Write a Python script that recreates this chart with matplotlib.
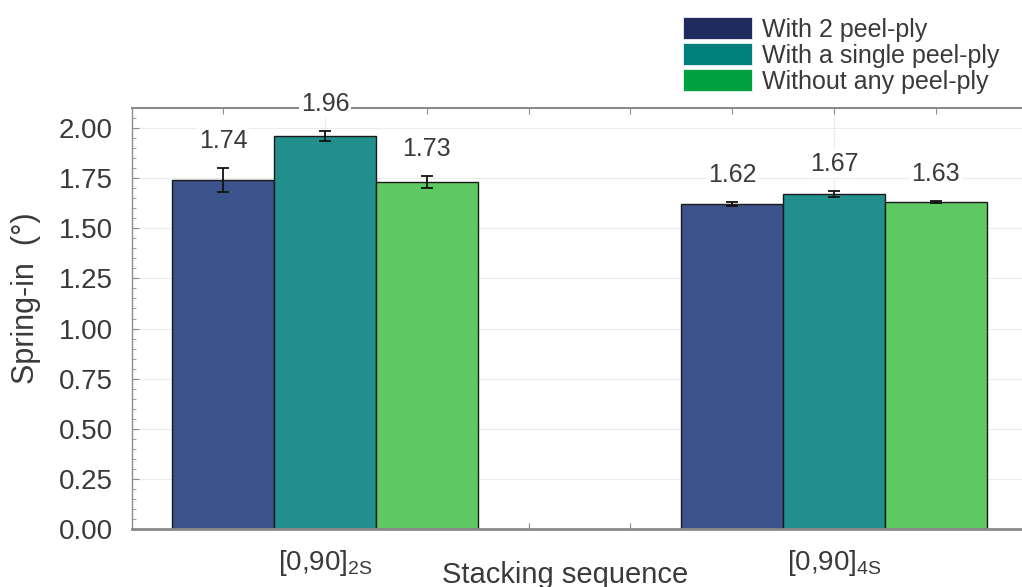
import numpy as np
import matplotlib
matplotlib.use("Agg")
import matplotlib.pyplot as plt
from matplotlib.ticker import MultipleLocator
from matplotlib.patches import Patch

plt.rcParams['font.family'] = ['Liberation Sans', 'DejaVu Sans']
plt.rcParams['mathtext.default'] = 'regular'

# data
groups = ['[0,90]$_{2S}$', '[0,90]$_{4S}$']
series = ['With 2 peel-ply', 'With a single peel-ply', 'Without any peel-ply']
spring_in = [[1.74, 1.62], [1.96, 1.67], [1.73, 1.63]]
errors = [[0.06, 0.01], [0.025, 0.015], [0.03, 0.005]]
labels = [['1.74', '1.62'], ['1.96', '1.67'], ['1.73', '1.63']]

bar_colors = ['#3b528b', '#21908d', '#5ec962']
legend_colors = ['#1f2a5f', '#00807c', '#00a040']
txt = '#3a3a3a'
spine = '#8a8a8a'

fig = plt.figure(figsize=(10.22, 5.87), dpi=100)
ax = fig.add_axes([132/1022, 1 - 529/587, (1027 - 132)/1022, (529 - 108)/587])

x = np.arange(len(groups))
w = 0.2
for i in range(len(series)):
    xi = x + (i - 1) * w
    ax.bar(xi, spring_in[i], w, color=bar_colors[i], edgecolor='#1a1a1a',
           linewidth=1.0, zorder=2)
    ax.errorbar(xi, spring_in[i], yerr=errors[i], fmt='none', ecolor='#111111',
                elinewidth=1.3, capsize=4, capthick=1.3, zorder=3)
    # value labels sit a fixed distance above the error bar
    for xx, v, e, s in zip(xi, spring_in[i], errors[i], labels[i]):
        ax.text(xx, v + e + 0.135, s, ha='center', va='center', fontsize=18,
                color=txt, zorder=4, clip_on=False,
                bbox=dict(facecolor='white', edgecolor='none', pad=1.5))

ax.set_xlim(-0.379, 1.379)
ax.set_ylim(0, 2.10)
ax.set_xticks(x)
ax.set_xticklabels(groups, fontsize=20, color=txt)
ax.xaxis.set_minor_locator(MultipleLocator(0.2))
ax.yaxis.set_major_locator(MultipleLocator(0.25))
ax.yaxis.set_minor_locator(MultipleLocator(0.05))
ax.yaxis.set_major_formatter(matplotlib.ticker.FormatStrFormatter('%.2f'))
ax.tick_params(axis='y', which='major', direction='in', length=5, width=0.8,
               color=spine, labelsize=20, labelcolor=txt, pad=14)
ax.tick_params(axis='y', which='minor', direction='in', length=3, width=0.6, color=spine)
ax.tick_params(axis='x', which='both', direction='in', length=4, width=0.8,
               color=spine, top=True, pad=14)
ax.grid(True, which='major', color='#ececec', linewidth=0.8, zorder=0)
ax.set_axisbelow(True)

ax.spines['right'].set_visible(False)
ax.spines['left'].set_color(spine)
ax.spines['left'].set_linewidth(1.0)
ax.spines['top'].set_color(spine)
ax.spines['top'].set_linewidth(1.5)
ax.spines['bottom'].set_color(spine)
ax.spines['bottom'].set_linewidth(2.0)

fig.text(26/1022, 1 - 298/587, 'Spring-in  (°)', rotation=90, ha='center',
         va='center', fontsize=22, color=txt)
fig.text(565/1022, 1 - 583/587, 'Stacking sequence', ha='center',
         va='baseline', fontsize=21, color=txt)

handles = [Patch(facecolor=c, edgecolor='white', linewidth=0.5) for c in legend_colors]
fig.legend(handles, series, loc='upper left', bbox_to_anchor=(683/1022, 1 - 17/587),
           frameon=False, fontsize=18, handlelength=2.75, handleheight=1.0,
           labelspacing=0.05, handletextpad=0.4, borderpad=0, borderaxespad=0,
           labelcolor=txt)

fig.savefig('out.png', dpi=100)
